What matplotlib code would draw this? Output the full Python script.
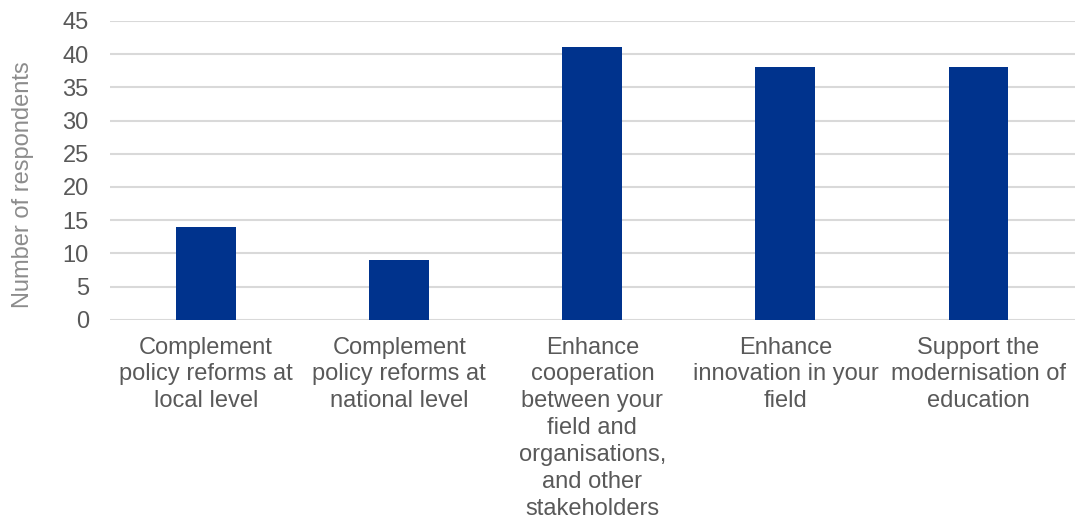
import matplotlib
matplotlib.use("Agg")
from matplotlib import pyplot as plt
import numpy as np

plt.rcParams['font.family'] = ['Liberation Sans', 'DejaVu Sans']

categories = [
    "Complement\npolicy reforms at\nlocal level",
    "Complement\npolicy reforms at\nnational level",
    "Enhance\ncooperation\nbetween your\nfield and\norganisations,\nand other\nstakeholders",
    "Enhance\ninnovation in your\nfield",
    "Support the\nmodernisation of\neducation",
]
values = [14, 9, 41, 38, 38]
y_ticks = [0, 5, 10, 15, 20, 25, 30, 35, 40, 45]

fig = plt.figure(figsize=(10.75, 5.21), dpi=100)
ax = fig.add_axes([0.102, 0.386, 0.898, 0.574])

x = np.arange(len(categories))
ax.bar(x, values, width=0.31, color="#00338d", zorder=3)

ax.set_xlim(-0.5, len(categories) - 0.5)
ax.set_ylim(0, 45)
ax.set_yticks(y_ticks)
ax.yaxis.grid(True, color="#d9d9d9", linewidth=1.5, zorder=0)
ax.set_axisbelow(True)

for s in ax.spines.values():
    s.set_visible(False)

ax.tick_params(axis='both', length=0, labelsize=17, labelcolor="#595959")
ax.tick_params(axis='y', pad=15)
ax.set_xticks(x)
ax.set_xticklabels(categories, linespacing=1.29)
ax.tick_params(axis='x', pad=12)

ax.set_ylabel("Number of respondents", fontsize=17, color="#8c8c8c")
ax.yaxis.set_label_coords((34 - 110) / 965, 0.453)

plt.savefig("out.png", dpi=100)
